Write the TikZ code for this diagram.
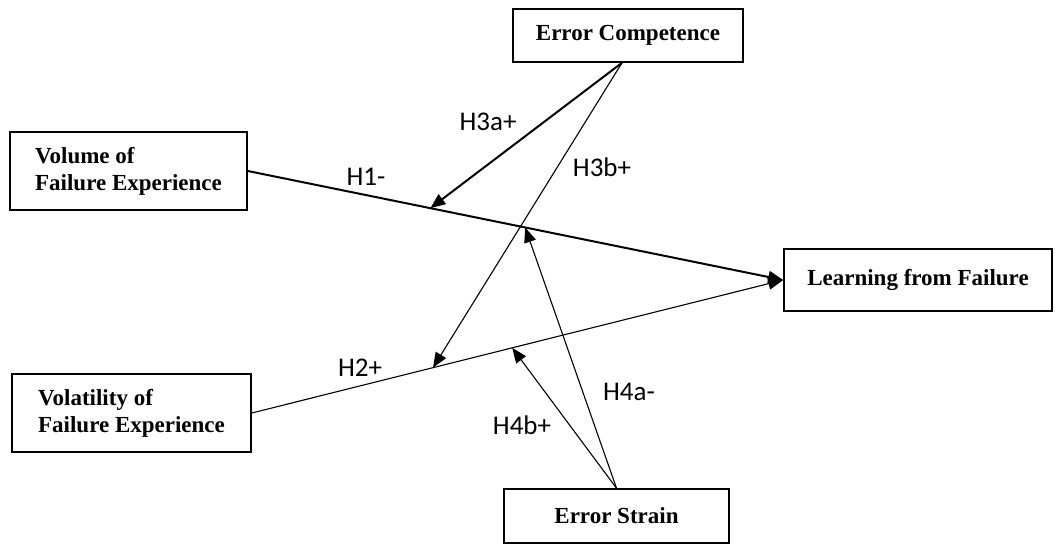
\documentclass[tikz,border=0pt]{standalone}
\usepackage{fontspec}
\setmainfont{Liberation Serif}
\newfontfamily\hypfont{Carlito}
\usetikzlibrary{calc,arrows.meta}
\tikzset{
	box/.style={draw, line width=1.6pt, align=left, inner sep=0pt, font=\fontsize{23}{27}\selectfont\bfseries},
	hyp/.style={font=\fontsize{27}{30}\selectfont\hypfont},
	boldarrow/.style={line width=2pt, -{Triangle[length=15pt,width=12pt]}},
	thinarrow/.style={line width=1.1pt, -{Triangle[length=15pt,width=12pt]}}
}

\begin{document}
\begin{tikzpicture}[x=1pt, y=-1pt]
			%%%%% START %%%%%
			\useasboundingbox (0, 0) rectangle (1055, 545);
			
			\node[box, minimum width=237pt, minimum height=78pt] (volume) at (128.5, 171) {Volume of\\Failure Experience};
			\node[box, minimum width=239pt, minimum height=78pt] (volatility) at (131.5, 413) {Volatility of\\Failure Experience};
			\node[box, minimum width=230pt, minimum height=53pt] (competence) at (628, 35.5) {Error Competence};
			\node[box, minimum width=225pt, minimum height=54pt] (strain) at (616.5, 516) {Error Strain};
			\node[box, minimum width=268pt, minimum height=62pt] (learning) at (918, 280) {Learning from Failure};
			
			\coordinate (hone) at ($(volume.east)!0.341!(learning.west)$);
			\coordinate (honemid) at ($(volume.east)!0.518!(learning.west)$);
			\coordinate (htwo) at ($(volatility.east)!0.341!(learning.west)$);
			\coordinate (htwomid) at ($(volatility.east)!0.49!(learning.west)$);
			
			\draw[boldarrow] (volume.east) -- (learning.west);
			\draw[thinarrow] (volatility.east) -- (learning.west);
			\draw[boldarrow] ([xshift=-6pt]competence.south) -- (hone);
			\draw[thinarrow] ([xshift=-6pt]competence.south) -- (htwo);
			\draw[thinarrow] (strain.north) -- (honemid);
			\draw[thinarrow] (strain.north) -- (htwomid);
			
			\node[hyp] (lblHone) at (366, 177) {H1-};
			\node[hyp] (lblHtwo) at (360, 368) {H2+};
			\node[hyp] (lblHthreea) at (488, 122) {H3a+};
			\node[hyp] (lblHthreeb) at (602, 167) {H3b+};
			\node[hyp] (lblHfoura) at (629, 392) {H4a-};
			\node[hyp] (lblHfourb) at (522, 425) {H4b+};
			%%%%% END %%%%%
		\end{tikzpicture}
\end{document}
